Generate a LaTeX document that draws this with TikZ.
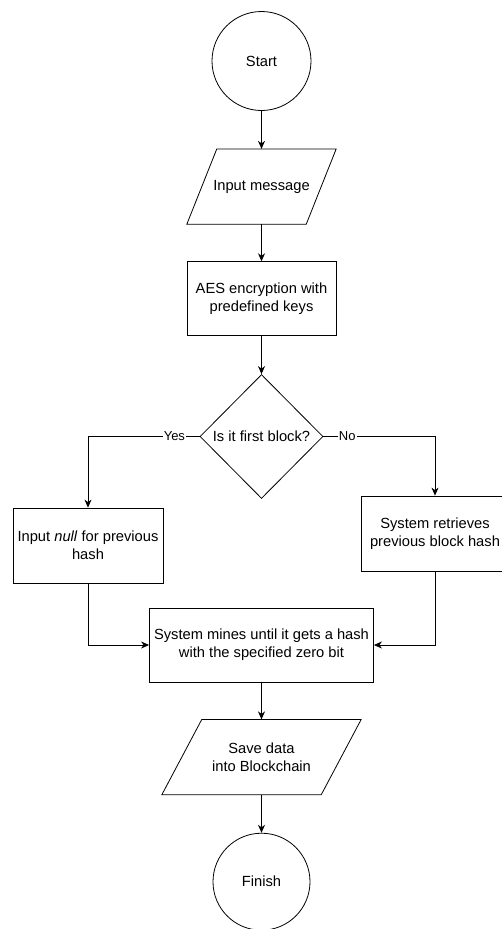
\documentclass[tikz,border=0pt]{standalone}
\usepackage{fontspec}
\setmainfont{Liberation Sans}
\usetikzlibrary{arrows.meta,shapes.geometric,positioning}
\newcommand{\flowfont}{\fontsize{14.7}{18.3}\selectfont}
\tikzset{
  terminal/.style={
    circle, draw=black, line width=0.8pt,
    minimum size=99pt, inner sep=0pt,
    font=\flowfont, align=center
  },
  iobox/.style={
    rectangle, draw=none,
    minimum height=75pt, inner sep=2pt,
    font=\flowfont, align=center
  },
  ioline/.style={draw=black, line width=0.8pt, line join=miter},
  procbox/.style={
    rectangle, draw=black, line width=0.8pt,
    minimum height=74pt, inner sep=2pt,
    font=\flowfont, align=center
  },
  decision/.style={
    diamond, draw=black, line width=0.8pt,
    minimum width=123pt, minimum height=124pt, inner sep=0pt,
    font=\flowfont, align=center
  },
  arr/.style={-{Stealth[length=8pt,width=7pt,inset=2.5pt]}, line width=1.1pt},
  branch/.style={-{Stealth[length=8pt,width=7pt,inset=2.5pt]}, line width=0.8pt},
  edgelabel/.style={
    fill=white, inner sep=1pt,
    font=\fontsize{13}{15}\selectfont
  },
}

\begin{document}
\begin{tikzpicture}[x=1pt, y=-1pt, node distance=38pt]

  \useasboundingbox (0,0) rectangle (501,929);

  \node[terminal] (start) at (261.5,61) {Start};

  \node[iobox, minimum width=119pt, below=of start]
    (input) {Input message};

  \node[procbox, minimum width=149pt, below=37pt of input]
    (aes) {AES encryption with\\predefined keys};

  \node[decision, below=of aes]
    (firstq) {Is it first block?};

  \node[procbox, minimum width=150pt, minimum height=75pt]
    (nullhash) at (88,545.5) {Input \textit{null} for previous\\hash};

  \node[procbox, minimum width=148pt, minimum height=75pt]
    (prevhash) at (435,533.5) {System retrieves\\previous block hash};

  \node[procbox, minimum width=224pt]
    (mine) at (261.5,645) {System mines until it gets a hash\\with the specified zero bit};

  \node[iobox, minimum width=159pt, below=37pt of mine]
    (save) {Save data\\into Blockchain};

  \node[terminal, minimum size=97pt, below=of save]
    (finish) {Finish};

  % Parallelogram outlines
  \draw[ioline] ([xshift=-15pt]input.south west) -- ([xshift=15pt]input.north west)
    -- ([xshift=15pt]input.north east) -- ([xshift=-15pt]input.south east) -- cycle;
  \draw[ioline] ([xshift=-20pt]save.south west) -- ([xshift=20pt]save.north west)
    -- ([xshift=20pt]save.north east) -- ([xshift=-20pt]save.south east) -- cycle;

  % Arrows
  \draw[arr] (start) -- (input);
  \draw[arr] (input) -- (aes);
  \draw[arr] (aes) -- (firstq);
  \draw[branch] (firstq.west) -| node[edgelabel, pos=0.113]{Yes} (nullhash.north);
  \draw[branch] (firstq.east) -| node[edgelabel, pos=0.107]{No} (prevhash.north);
  \draw[branch] (nullhash.south) |- (mine.west);
  \draw[branch] (prevhash.south) |- (mine.east);
  \draw[arr] (mine) -- (save);
  \draw[arr] (save) -- (finish);

\end{tikzpicture}
\end{document}
